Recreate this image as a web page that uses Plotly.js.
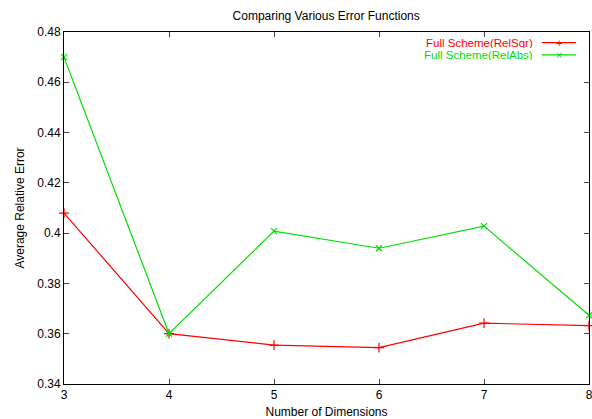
<!DOCTYPE html>
<html>
<head>
<meta charset="utf-8">
<script src="https://cdn.plot.ly/plotly-3.0.1.min.js"></script>
<style>html,body{margin:0;padding:0;background:#fff;}#chart{width:592px;height:419px;}</style>
</head>
<body>
<div id="chart"></div>
<script>
var dimensions = [3, 4, 5, 6, 7, 8];
var relSqr = [0.408, 0.360, 0.3555, 0.3545, 0.3642, 0.3632];
var relAbs = [0.470, 0.360, 0.4008, 0.3940, 0.4028, 0.3673];
var seriesNames = ["Full Scheme(RelSqr)", "Full Scheme(RelAbs)"];
var seriesColors = ["#ff0000", "#00dd00"];
var xTicks = [3, 4, 5, 6, 7, 8];
var yTicks = [0.34, 0.36, 0.38, 0.40, 0.42, 0.44, 0.46, 0.48];

var font = "Liberation Sans, Arial, sans-serif";

var traces = [
  {x: dimensions, y: relSqr, name: seriesNames[0], type: "scatter", mode: "lines+markers",
   line: {color: seriesColors[0], width: 1.2},
   marker: {symbol: "cross-thin", size: 7, line: {color: seriesColors[0], width: 1.2}},
   cliponaxis: false, showlegend: false},
  {x: dimensions, y: relAbs, name: seriesNames[1], type: "scatter", mode: "lines+markers",
   line: {color: seriesColors[1], width: 1.2},
   marker: {symbol: "x-thin", size: 6, line: {color: seriesColors[1], width: 1.2}},
   cliponaxis: false, showlegend: false}
];

var legendY = [0.970, 0.935];
var annotations = [];
var shapes = [];
var symbols = ["+", "×"];
for (var i = 0; i < seriesNames.length; i++) {
  annotations.push({xref: "paper", yref: "paper", x: 0.898, y: legendY[i], xanchor: "right", yanchor: "middle",
    text: seriesNames[i], showarrow: false, height: 11, font: {family: font, size: 11.5, color: seriesColors[i]}});
  shapes.push({type: "line", xref: "paper", yref: "paper", x0: 0.91, x1: 0.975, y0: legendY[i], y1: legendY[i],
    line: {color: seriesColors[i], width: 1.2}});
  annotations.push({xref: "paper", yref: "paper", x: 0.9425, y: legendY[i], xanchor: "center", yanchor: "middle",
    text: symbols[i], showarrow: false, height: 11, font: {family: font, size: 11, color: seriesColors[i]}});
}

var layout = {
  width: 592, height: 419,
  margin: {l: 64, r: 3, t: 32, b: 35},
  paper_bgcolor: "#ffffff", plot_bgcolor: "#ffffff",
  font: {family: font, size: 12, color: "#000"},
  title: {text: "Comparing Various Error Functions", font: {family: font, size: 12, color: "#000"},
    x: 0.551, xanchor: "center", y: 0.962, yanchor: "middle"},
  xaxis: {range: [3, 8], tickvals: xTicks, ticktext: xTicks.map(String), ticks: "inside", ticklen: 5,
    showline: true, linecolor: "#000", linewidth: 1, mirror: "ticks", showgrid: false, zeroline: false,
    automargin: false, ticklabeloverflow: "allow",
    tickfont: {family: font, size: 12}, title: {text: "Number of Dimensions", font: {family: font, size: 12}, standoff: 6}},
  yaxis: {range: [0.34, 0.48], tickvals: yTicks, ticktext: yTicks.map(function(v){return String(+v.toFixed(2));}),
    ticks: "inside", ticklen: 5,
    showline: true, linecolor: "#000", linewidth: 1, mirror: "ticks", showgrid: false, zeroline: false,
    tickfont: {family: font, size: 12}, title: {text: "Average Relative Error", font: {family: font, size: 12}, standoff: 10}},
  annotations: annotations,
  shapes: shapes,
  showlegend: false
};

Plotly.newPlot("chart", traces, layout, {staticPlot: true, displayModeBar: false});
</script>
</body>
</html>
